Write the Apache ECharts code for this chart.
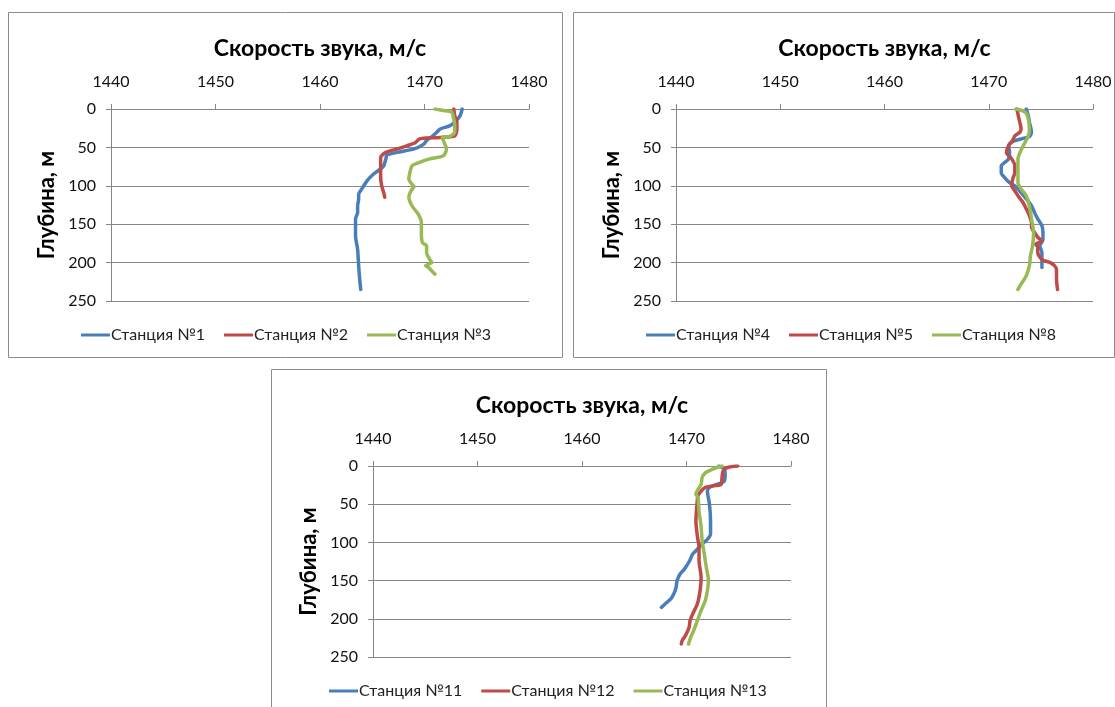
<!DOCTYPE html>
<html>
<head>
<meta charset="utf-8">
<script src="https://cdn.jsdelivr.net/npm/echarts@6/dist/echarts.min.js"></script>
<style>
  html, body { margin: 0; padding: 0; background: #fff; }
  #chart { width: 1115px; height: 707px; }
</style>
</head>
<body>
<div id="chart"></div>
<script>
// Sound speed profiles: [speed, m/s ; depth, m]
const st1 = [[1473.6,0],[1473.4,9],[1472.9,17],[1472.4,22],[1471.5,26],[1471.2,30],[1470.8,35],[1470.2,41],[1469.9,46],[1469.0,52],[1467.4,56.5],[1466.4,60],[1466.3,65],[1466.1,74],[1465.8,78],[1465.1,85],[1464.5,93.5],[1464.0,104],[1463.7,111],[1463.7,117],[1463.6,126],[1463.6,135],[1463.4,143],[1463.4,152],[1463.4,165],[1463.6,183],[1463.7,204],[1463.8,222],[1463.9,235]];
const st2 = [[1472.8,0],[1472.9,9],[1473.1,17],[1473.1,26],[1472.9,35],[1471.5,37],[1469.9,38],[1469.5,39],[1469.1,44],[1468.3,48],[1467.4,52],[1466.3,56.5],[1465.8,63],[1465.8,74],[1465.8,87],[1465.9,100],[1466.1,109],[1466.2,115]];
const st3 = [[1471.0,0],[1471.8,2],[1472.6,4],[1472.8,13],[1472.9,22],[1472.9,30],[1472.4,36],[1471.7,37],[1471.8,41],[1472.1,52],[1471.8,61],[1470.5,65],[1469.4,70],[1468.8,74],[1468.6,83],[1468.5,91],[1468.8,98],[1469.0,101],[1468.7,106.5],[1468.5,115],[1468.8,126],[1469.4,137],[1469.7,148],[1469.7,161],[1469.8,174],[1470.2,178],[1470.2,187],[1470.5,196],[1470.7,200],[1470.1,204],[1470.4,206.5],[1470.7,211],[1471.0,215]];

const st4 = [[1473.6,0],[1473.8,9],[1473.9,17],[1474.1,30],[1473.9,36],[1473.1,39],[1472.2,43],[1471.9,48],[1472.0,56.5],[1471.9,65],[1471.5,70],[1471.2,74],[1471.2,83],[1471.5,89],[1472.0,96],[1472.5,100],[1473.1,109],[1473.6,117],[1474.1,126],[1474.4,135],[1474.7,143],[1475.1,152],[1475.2,161],[1475.2,170],[1474.9,178],[1475.1,187],[1475.1,196],[1475.1,206.5]];
const st5 = [[1472.7,0],[1472.9,13],[1473.1,26],[1473.0,30],[1472.5,35],[1472.3,41],[1471.9,48],[1471.7,56.5],[1472.2,65],[1472.5,74],[1472.5,83],[1472.3,91],[1472.2,100],[1472.5,106.5],[1472.8,113],[1473.3,122],[1473.6,130],[1473.9,139],[1474.1,148],[1474.1,154],[1474.4,161],[1474.7,167],[1475.1,172],[1474.5,176],[1474.7,180],[1474.7,187],[1475.1,196],[1475.9,200],[1476.3,204],[1476.5,209],[1476.5,222],[1476.6,235]];
const st8 = [[1472.6,0],[1473.5,4],[1473.8,13],[1473.9,26],[1473.8,35],[1473.3,48],[1473.0,56.5],[1472.8,65],[1472.8,83],[1472.8,96],[1473.1,104],[1473.6,113],[1473.9,126],[1474.1,143],[1474.3,161],[1474.2,178],[1474.0,191],[1473.9,204],[1473.6,217],[1473.1,228],[1472.8,235]];

const st11 = [[1473.1,0],[1473.6,4],[1473.7,11],[1473.6,20],[1472.9,24],[1472.2,28],[1472.0,33],[1472.2,50],[1472.3,72],[1472.3,89],[1472.0,96],[1471.5,102],[1470.9,111],[1470.6,115],[1470.3,124],[1469.8,135],[1469.4,141],[1469.1,150],[1469.0,159],[1468.8,167],[1468.5,174],[1468.0,180],[1467.6,185]];
const st12 = [[1474.9,0],[1473.9,2],[1473.5,6.5],[1473.4,15],[1473.3,24],[1472.5,26],[1471.8,28],[1471.4,33],[1471.1,39],[1471.0,50],[1470.9,72],[1471.05,93],[1471.2,106.5],[1471.2,124],[1471.4,146],[1471.3,163],[1471.05,180],[1470.6,193.5],[1470.35,202],[1470.25,211],[1469.9,222],[1469.6,228],[1469.5,233]];
const st13 = [[1473.4,0],[1472.5,4],[1471.8,9],[1471.5,15],[1471.4,24],[1471.0,33],[1470.9,37],[1471.1,41],[1471.2,59],[1471.4,80],[1471.5,98],[1471.7,115],[1471.9,133],[1472.1,150],[1472.0,163],[1471.8,176],[1471.4,189],[1471.05,202],[1470.7,215],[1470.35,226],[1470.2,233]];

const titleText = 'Скорость звука, м/с';
const depthName = 'Глубина, м';
const speedMin = 1440, speedMax = 1480, speedStep = 10;
const depthMin = 0, depthMax = 250, depthStep = 50;

const panels = [
  { names: ['Станция №1', 'Станция №2', 'Станция №3'], data: [st1, st2, st3] },
  { names: ['Станция №4', 'Станция №5', 'Станция №8'], data: [st4, st5, st8] },
  { names: ['Станция №11', 'Станция №12', 'Станция №13'], data: [st11, st12, st13] }
];

// panel geometry: frame box, plot area, legend start
const layout = [
  { box: [8.5, 12.5, 554, 345], grid: { left: 111, top: 109, width: 418, height: 192 }, legendLeft: 76 },
  { box: [573.5, 12.5, 541, 345], grid: { left: 676, top: 109, width: 417, height: 192 }, legendLeft: 641 },
  { box: [271.5, 369.5, 555, 345], grid: { left: 373, top: 466, width: 418, height: 191 }, legendLeft: 324 }
];

const colors = ['#4a7ebb', '#be4b48', '#98b954'];
const gridColor = '#868686';
const font = 'Lato, "Open Sans", "Liberation Sans", sans-serif';

const grids = [], xAxes = [], yAxes = [], series = [], legends = [], graphics = [];

layout.forEach((L, i) => {
  grids.push(Object.assign({ containLabel: false }, L.grid));
  xAxes.push({
    type: 'value', gridIndex: i, position: 'top',
    min: speedMin, max: speedMax, interval: speedStep,
    axisLine: { show: true, lineStyle: { color: gridColor, width: 1 } },
    axisTick: { show: true, inside: false, length: 5, lineStyle: { color: gridColor } },
    axisLabel: { margin: 19, color: '#111', fontFamily: font, fontSize: 16, formatter: v => String(v) },
    splitLine: { show: false }
  });
  yAxes.push({
    type: 'value', gridIndex: i, inverse: true,
    min: depthMin, max: depthMax, interval: depthStep,
    name: depthName, nameLocation: 'middle', nameRotate: 90, nameGap: 53,
    nameTextStyle: { fontFamily: font, fontSize: 22, fontWeight: 'bold', color: '#000' },
    axisLine: { show: true, lineStyle: { color: gridColor, width: 1 } },
    axisTick: { show: true, inside: false, length: 5, lineStyle: { color: gridColor } },
    axisLabel: { margin: 15, color: '#111', fontFamily: font, fontSize: 16, formatter: v => String(v) },
    splitLine: { show: true, lineStyle: { color: gridColor, width: 1 } }
  });
  panels[i].names.forEach((name, k) => {
    series.push({
      name, type: 'line', xAxisIndex: i, yAxisIndex: i,
      data: panels[i].data[k], symbol: 'none', smooth: 0.25,
      color: colors[k],
      lineStyle: { width: 3.5, color: colors[k], cap: 'round', join: 'round' }
    });
  });
  legends.push({
    data: panels[i].names, left: L.legendLeft, top: L.grid.top + L.grid.height + 21,
    icon: 'rect', itemWidth: 29, itemHeight: 3, itemGap: 19,
    textStyle: { fontFamily: font, fontSize: 16, color: '#222', padding: [0, 0, 0, -4] }
  });
  graphics.push({
    type: 'rect', shape: { x: L.box[0], y: L.box[1], width: L.box[2], height: L.box[3] },
    style: { fill: 'none', stroke: '#8c8c8c', lineWidth: 1 }, silent: true
  });
  graphics.push({
    type: 'text', x: L.grid.left + L.grid.width / 2, y: L.grid.top - 60,
    style: { text: titleText, font: 'bold 23px ' + font, fill: '#000', textAlign: 'center', textVerticalAlign: 'middle' },
    silent: true
  });
});

const chart = echarts.init(document.getElementById('chart'), null, { renderer: 'canvas' });
chart.setOption({
  animation: false,
  backgroundColor: '#fff',
  grid: grids, xAxis: xAxes, yAxis: yAxes, series, legend: legends, graphic: graphics
});
</script>
</body>
</html>
